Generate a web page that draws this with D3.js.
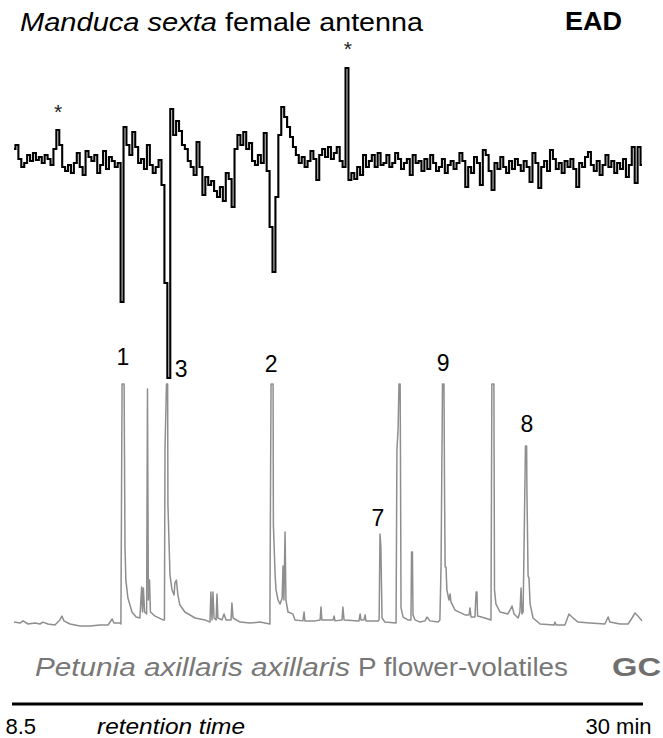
<!DOCTYPE html>
<html><head><meta charset="utf-8">
<script src="https://cdn.jsdelivr.net/npm/d3@7"></script>
<style>html,body{margin:0;padding:0;background:#fff}svg{display:block}</style>
</head><body><svg id="c" width="663" height="738"></svg>
<script>
// ---- data ----
const timeDomain = [8.5, 30];          // retention time, min
const eadStart = 8.5, eadStep = 0.1;   // EAD sampling (min)
const eadSignal = [
  8, 12, -2, -10, -6, 2, -4, 4, -3, 0, -6, 2,
  -2, -8, 8, 27, 12, -10, -14, -8, -16, -6, 4, -10,
  -18, 6, 0, -4, 2, -16, -8, 6, -12, 0, -4, -10,
  -6, -145, 30, 12, 2, 25, 10, -6, -2, -12, 12, -8,
  -16, -10, -3, -28, -126, -221, 48, 22, 36, 26, 12, 8,
  -4, -10, -18, 15, -10, -38, -20, -28, -24, -34, -40, -30,
  -44, -16, -22, -50, 8, 22, 12, 25, 8, 14, -4, -8,
  2, -6, 24, -14, -70, -115, -40, 22, 50, 40, 30, 20,
  10, 2, -6, 0, -10, -4, 6, -2, -23, 2, 8, 0,
  10, -2, 4, 10, -4, -10, 89, -23, -16, -22, -10, -18,
  2, -10, -4, 2, -10, 4, -8, -6, 2, -10, -6, 4,
  -2, -12, -6, -2, -18, 2, -6, -4, -14, -2, -12, 2,
  -6, -14, -10, -2, -16, -8, -4, -12, -6, 4, -4, -30,
  -10, -16, 0, -6, -28, 7, 2, -14, -33, -6, -12, 0,
  -10, -16, -4, -12, -2, -8, -14, -4, -10, -25, 4, -6,
  -31, -10, -4, -14, 7, -2, -12, -6, -16, -4, -10, -2,
  -12, -30, -6, -10, 0, 5, -8, -14, -4, -18, -8, 2,
  -10, -4, -16, -6, -12, -2, -20, -8, 10, -26, 10, -8
];
const gcTrace = [
  [8.50,0.8],[8.71,0.4],[8.81,1.3],[8.98,0],[9.22,0.4],[9.39,0],[9.49,0.8],[9.66,0],[9.90,-0.4],
  [10.07,1.7],[10.14,3.3],[10.21,1.3],[10.42,0],[10.76,-0.8],[11.10,-0.8],[11.44,-0.4],[11.72,-0.4],
  [11.86,2.1],[11.92,0.4],[12.13,0.4],[12.16,0],[12.20,100],[12.27,100],[12.30,31.7],[12.33,18.3],
  [12.40,10.8],[12.54,5],[12.68,2.9],[12.81,2.5],[12.87,15.4],[12.90,5],[12.93,15],[12.97,5],
  [13.04,4.2],[13.07,97.9],[13.10,10],[13.14,18.3],[13.17,5],[13.33,3.3],[13.60,1.7],[13.65,1.7],
  [13.67,73.3],[13.72,100],[13.76,100],[13.77,49.6],[13.81,32.9],[13.84,20.4],[13.91,14.2],
  [13.98,12.1],[14.01,17.1],[14.06,18.3],[14.11,12.1],[14.18,7.9],[14.35,5],[14.70,2.5],[15.04,1.7],
  [15.21,0.8],[15.24,13.3],[15.28,1.7],[15.31,13.3],[15.35,2.5],[15.42,1.7],[15.45,12.5],[15.48,2.5],
  [15.62,1.7],[15.69,4.2],[15.76,1.7],[15.93,1.7],[15.96,8.8],[16.00,2.5],[16.24,0.8],[16.58,0.4],
  [16.92,0.8],[17.26,0],[17.30,100],[17.37,100],[17.38,41.3],[17.44,20.4],[17.47,14.2],[17.54,10],
  [17.61,8.3],[17.68,10.8],[17.71,24.2],[17.74,10],[17.78,38.3],[17.81,10],[17.88,5],[18.05,4.2],
  [18.12,1.7],[18.39,1.3],[18.43,5],[18.46,1.3],[18.81,1.3],[18.98,1.7],[19.01,7.1],[19.04,1.7],
  [19.42,1.7],[19.46,3.3],[19.49,1.3],[19.73,1.7],[19.76,7.1],[19.80,1.7],[20.31,1.3],[20.35,4.2],
  [20.38,1.7],[20.48,1.7],[20.52,3.8],[20.55,1.3],[20.96,1.3],[21.00,1.7],[21.03,37.5],[21.06,32.1],
  [21.10,2.5],[21.20,0.8],[21.58,0.4],[21.61,72.5],[21.65,81.3],[21.68,100],[21.72,100],[21.73,73.8],
  [21.75,6.7],[21.82,2.9],[21.99,1.7],[22.09,1.7],[22.11,30],[22.14,30],[22.16,3.8],[22.23,1.7],
  [22.40,0.8],[22.57,1.3],[22.64,2.9],[22.74,1.3],[23.02,0.8],[23.08,1.7],[23.12,23.8],[23.17,100],
  [23.22,100],[23.24,55.8],[23.26,23.8],[23.29,23.8],[23.32,14.2],[23.39,10],[23.43,12.5],[23.46,9.2],
  [23.60,5.8],[23.94,3.8],[24.08,3.8],[24.11,6.7],[24.15,2.9],[24.28,2.9],[24.32,13.3],[24.35,13.3],
  [24.37,3.3],[24.62,2.5],[24.83,1.7],[24.86,100],[24.93,100],[24.95,14.2],[25.00,8.3],[25.14,5],
  [25.41,4.2],[25.48,5.8],[25.55,7.5],[25.62,4.2],[25.76,2.5],[25.82,5],[25.86,15],[25.89,4.2],
  [25.93,5],[26.01,74.2],[26.05,74.2],[26.06,55.8],[26.10,20],[26.13,19.2],[26.17,8.3],[26.27,2.5],
  [26.51,0],[26.99,-0.4],[27.02,0.8],[27.06,-0.4],[27.36,-0.4],[27.50,4.2],[27.60,2.9],[27.81,0.8],
  [28.22,0.4],[28.73,0],[28.84,2.9],[28.90,0.8],[29.25,0],[29.52,0],[29.66,2.5],[29.76,4.6],
  [29.86,3.3],[30.00,1.3]
];
const peakLabels = ["1", "3", "2", "7", "9", "8"];
const peakLabelTimes = [12.23, 14.22, 17.30, 20.96, 23.19, 26.06];
const peakLabelLevels = [108, 103, 105, 41, 105.5, 80];
const eadMarkTimes = [10.01, 19.93];
const eadMarkLevels = [38, 101];
const axisTickValues = [8.5, 30];
const axisTickLabels = ["8.5", "30 min"];

// ---- scales ----
const svg = d3.select("#c");
const font = "'Liberation Sans', Arial, Helvetica, sans-serif";
const x = d3.scaleLinear().domain(timeDomain).range([14, 642]);
const yEad = d3.scaleLinear().domain([-250, 100]).range([407, 57]);
const yGc = d3.scaleLinear().domain([0, 100]).range([624, 384]);

// ---- titles ----
function txt(t, px, py, size, opts) {
  const e = svg.append("text").attr("x", px).attr("y", py)
    .attr("font-family", font).attr("font-size", size).text(t)
    .attr("fill", opts.fill || "#000");
  if (opts.italic) e.attr("font-style", "italic");
  if (opts.bold) e.attr("font-weight", "bold");
  if (opts.len) e.attr("textLength", opts.len).attr("lengthAdjust", "spacingAndGlyphs");
  if (opts.anchor) e.attr("text-anchor", opts.anchor);
  return e;
}
txt("Manduca sexta", 20, 31, 26, {italic: true, len: 197});
txt("female antenna", 225, 31, 26, {len: 198});
txt("EAD", 565, 30, 26, {bold: true, len: 57});
txt("Petunia axillaris axillaris", 35, 676, 25, {italic: true, fill: "#777", len: 315});
txt("P flower-volatiles", 358, 676, 25, {fill: "#777", len: 210});
txt("GC", 612, 676, 26, {bold: true, fill: "#6f6f6f", len: 49});

// ---- GC trace ----
svg.append("path").datum(gcTrace)
  .attr("fill", "none").attr("stroke", "#8e8e8e").attr("stroke-width", 1.5)
  .attr("stroke-linejoin", "round")
  .attr("d", d3.line().x(d => x(d[0])).y(d => yGc(d[1])));

// ---- EAD trace ----
svg.append("path").datum(eadSignal)
  .attr("fill", "none").attr("stroke", "#000").attr("stroke-width", 2.1)
  .attr("d", d3.line().curve(d3.curveStep)
    .x((d, i) => x(eadStart + i * eadStep)).y(d => yEad(d)));

// ---- annotations ----
peakLabels.forEach((l, i) => {
  txt(l, x(peakLabelTimes[i]), yGc(peakLabelLevels[i]), 23, {anchor: "middle"});
});
eadMarkTimes.forEach((t, i) => {
  txt("*", x(t), yEad(eadMarkLevels[i]), 21, {anchor: "middle", fill: "#222"});
});

// ---- time axis ----
const axis = d3.axisBottom(x).tickValues(axisTickValues).tickSize(0).tickSizeOuter(0)
  .tickFormat((d, i) => axisTickLabels[i]);
const ag = svg.append("g").attr("transform", "translate(0,704)").call(axis);
ag.select(".domain").attr("stroke", "#000").attr("stroke-width", 3)
  .attr("d", `M${x(8.5) - 2},0H${x(30) + 1}`);
ag.selectAll(".tick text").attr("font-family", font).attr("font-size", 22)
  .attr("fill", "#000").attr("text-anchor", "start").attr("dy", null).attr("y", 30)
  .attr("x", (d, i) => i === 0 ? -9 : -57);
txt("retention time", 97, 734, 22, {italic: true, len: 148});
</script></body></html>
